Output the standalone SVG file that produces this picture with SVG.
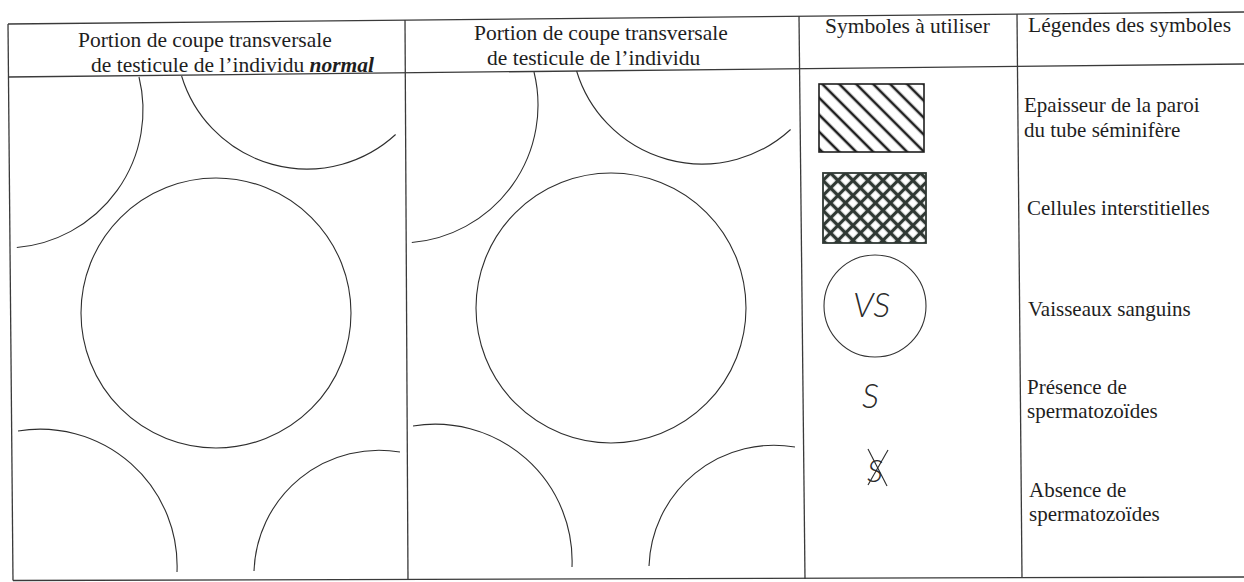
<svg xmlns="http://www.w3.org/2000/svg" width="1244" height="582" viewBox="0 0 1244 582">
<style>
.grid{stroke:#3a3a3a;stroke-width:1.3;fill:none}
.arc{stroke:#2e2e2e;stroke-width:1.1;fill:none}
.hd{font-family:"Liberation Serif","Times New Roman",serif;font-size:21.5px;fill:#1e1e1e}
.lg{font-family:"Liberation Serif","Times New Roman",serif;font-size:21px;fill:#1e1e1e}
.hw{font-family:Lato,"Liberation Sans",Arial,sans-serif;font-style:italic;font-weight:300;fill:#2a2a2a}
</style>
<defs>
<pattern id="hatch" width="12" height="12" patternUnits="userSpaceOnUse" patternTransform="rotate(-45)">
<line x1="6" y1="0" x2="6" y2="12" stroke="#1e1e1e" stroke-width="2.6"/>
</pattern>
<pattern id="mesh" width="10.6" height="10.6" patternUnits="userSpaceOnUse" patternTransform="translate(823,173) rotate(45)">
<path d="M5.3,0 V10.6 M0,5.3 H10.6" stroke="#2f3833" stroke-width="3.2" fill="none"/>
</pattern>
</defs>
<rect width="1244" height="582" fill="#ffffff"/>

<g id="table">
<line class="grid" x1="8" y1="24" x2="1244" y2="12"/>
<line class="grid" x1="8" y1="77" x2="1244" y2="64"/>
<line class="grid" x1="13" y1="580.5" x2="1244" y2="577"/>
<line class="grid" x1="8" y1="24" x2="13" y2="580.5"/>
<line class="grid" x1="405" y1="20" x2="408" y2="580"/>
<line class="grid" x1="799" y1="16" x2="805" y2="579"/>
<line class="grid" x1="1017" y1="14" x2="1022" y2="578"/>
</g>

<g id="headers">
<text class="hd" x="78" y="47">Portion de coupe transversale</text>
<text class="hd" x="91" y="72">de testicule de l’individu <tspan font-weight="bold" font-style="italic">normal</tspan></text>
<text class="hd" x="474" y="40">Portion de coupe transversale</text>
<text class="hd" x="487" y="65">de testicule de l’individu</text>
<text class="hd" x="825" y="33">Symboles à utiliser</text>
<text class="hd" x="1028" y="32">Légendes des symboles</text>
</g>

<g id="panel-normal">
<path class="arc" d="M139,77 A138,138 0 0 1 16.8,247.5"/>
<path class="arc" d="M181.6,76 A131,131 0 0 0 395.6,134.5"/>
<circle class="arc" cx="216" cy="313" r="135"/>
<path class="arc" d="M18,431 A137,137 0 0 1 177,572"/>
<path class="arc" d="M400,452 A125,125 0 0 0 254,571"/>
</g>

<g id="panel-individu" transform="translate(395,-5)">
<path class="arc" d="M139,77 A138,138 0 0 1 16.8,247.5"/>
<path class="arc" d="M181.6,76 A131,131 0 0 0 395.6,134.5"/>
<circle class="arc" cx="216" cy="313" r="135"/>
<path class="arc" d="M18,431 A137,137 0 0 1 177,572"/>
<path class="arc" d="M400,452 A125,125 0 0 0 254,571"/>
</g>

<g id="symbols">
<g id="sym-paroi">
<rect x="819" y="84" width="105" height="68" fill="url(#hatch)" stroke="#1e1e1e" stroke-width="1.6"/>
</g>
<g id="sym-interstitielles">
<rect x="823" y="173" width="103" height="70" fill="url(#mesh)" stroke="#2f3833" stroke-width="1.8"/>
</g>
<g id="sym-vs">
<circle cx="875" cy="306" r="51" fill="none" stroke="#333" stroke-width="1.1"/>
<text class="hw" x="853" y="317" font-size="34">VS</text>
</g>
<g id="sym-s">
<text class="hw" x="862" y="408" font-size="34">S</text>
</g>
<g id="sym-s-barre">
<text class="hw" x="867" y="482" font-size="32">S</text>
<line x1="868" y1="449" x2="887" y2="486" stroke="#2a2a2a" stroke-width="1.1"/>
<line x1="888" y1="450" x2="868" y2="485" stroke="#2a2a2a" stroke-width="1.1"/>
</g>
</g>

<g id="legends">
<text class="lg" x="1024" y="112">Epaisseur de la paroi</text>
<text class="lg" x="1024" y="137">du tube séminifère</text>
<text class="lg" x="1027" y="215">Cellules interstitielles</text>
<text class="lg" x="1028" y="316">Vaisseaux sanguins</text>
<text class="lg" x="1027" y="394">Présence de</text>
<text class="lg" x="1027" y="418">spermatozoïdes</text>
<text class="lg" x="1029" y="497">Absence de</text>
<text class="lg" x="1029" y="521">spermatozoïdes</text>
</g>
</svg>
